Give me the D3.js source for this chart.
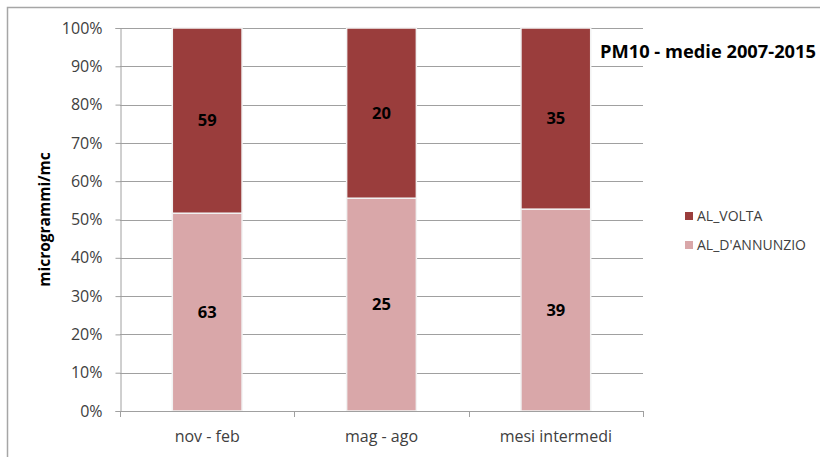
<!DOCTYPE html>
<html>
<head>
<meta charset="utf-8">
<script src="https://cdn.jsdelivr.net/npm/d3@7"></script>
<style>
  html, body { margin: 0; padding: 0; background: #fff; }
  svg { display: block; }
</style>
</head>
<body>
<svg id="chart" width="820" height="457"></svg>
<script>
// PM10 seasonal averages, 2007-2015, per station (µg/m³)
const categories = ["nov - feb", "mag - ago", "mesi intermedi"];
const seriesNames = ["AL_D'ANNUNZIO", "AL_VOLTA"];
const annunzioValues = [63, 25, 39];
const voltaValues = [59, 20, 35];
const yTickValues = [0, 0.1, 0.2, 0.3, 0.4, 0.5, 0.6, 0.7, 0.8, 0.9, 1.0];
const seriesColors = ["#d9a7a9", "#9a3d3c"];

const font = "'Open Sans', 'Noto Sans', sans-serif";
const svg = d3.select("#chart");

// outer chart frame
svg.append("rect")
  .attr("x", 7.5).attr("y", 7.5)
  .attr("width", 830).attr("height", 470)
  .attr("fill", "#fff").attr("stroke", "#a6a6a6").attr("stroke-width", 1.5);

const plot = { left: 120, right: 643, top: 28, bottom: 411 };

const x = d3.scaleBand()
  .domain(categories)
  .range([plot.left, plot.right])
  .paddingInner(0.6).paddingOuter(0.3);

const y = d3.scaleLinear().domain([0, 1]).range([plot.bottom, plot.top]);

// build 100% stacked rows
const rows = categories.map((c, i) => ({
  cat: c,
  [seriesNames[0]]: annunzioValues[i],
  [seriesNames[1]]: voltaValues[i]
}));
const stack = d3.stack().keys(seriesNames).offset(d3.stackOffsetExpand);
const layers = stack(rows);

// gridlines
svg.append("g").selectAll("line")
  .data(yTickValues.filter(v => v > 0))
  .join("line")
  .attr("x1", plot.left).attr("x2", plot.right)
  .attr("y1", d => Math.round(y(d)) + 0.5).attr("y2", d => Math.round(y(d)) + 0.5)
  .attr("stroke", "#a0a0a0").attr("stroke-width", 1);

// y axis
const yAxis = svg.append("g")
  .attr("transform", `translate(${plot.left + 0.5},0)`)
  .call(d3.axisLeft(y).tickValues(yTickValues).tickFormat(d3.format(".0%")).tickSize(5).tickPadding(13));
yAxis.select(".domain").attr("stroke", "#a0a0a0");
yAxis.selectAll(".tick line").attr("stroke", "#a0a0a0");
yAxis.selectAll("text")
  .attr("font-family", font).attr("font-size", 16).attr("fill", "#404040");

// bars
svg.append("g").selectAll("g")
  .data(layers)
  .join("g")
  .attr("fill", (d, i) => seriesColors[i])
  .selectAll("rect")
  .data(d => d)
  .join("rect")
  .attr("x", d => x(d.data.cat))
  .attr("width", x.bandwidth())
  .attr("y", d => y(d[1]))
  .attr("height", d => y(d[0]) - y(d[1]))
  .attr("stroke", "#f2f2f2").attr("stroke-width", 1.5);

// value labels
layers.forEach((layer, si) => {
  svg.append("g").selectAll("text")
    .data(layer)
    .join("text")
    .attr("x", d => x(d.data.cat) + x.bandwidth() / 2)
    .attr("y", d => (y(d[0]) + y(d[1])) / 2)
    .attr("dy", "0.35em")
    .attr("text-anchor", "middle")
    .attr("font-family", font).attr("font-size", 16.5).attr("font-weight", "bold")
    .attr("fill", "#000")
    .text(d => d.data[seriesNames[si]]);
});

// x axis
const xAxis = svg.append("g")
  .attr("transform", `translate(0,${plot.bottom + 0.5})`)
  .call(d3.axisBottom(x).tickSize(0).tickPadding(19));
xAxis.select(".domain").attr("stroke", "#a0a0a0").attr("d", `M${plot.left},0H${plot.right}`);
xAxis.selectAll("text")
  .attr("font-family", font).attr("font-size", 16).attr("fill", "#404040");
// category separators
const step = (plot.right - plot.left) / categories.length;
svg.append("g").selectAll("line")
  .data(d3.range(categories.length + 1))
  .join("line")
  .attr("x1", i => Math.round(plot.left + i * step) + 0.5)
  .attr("x2", i => Math.round(plot.left + i * step) + 0.5)
  .attr("y1", plot.bottom).attr("y2", plot.bottom + 6)
  .attr("stroke", "#a0a0a0");

// y axis title
svg.append("text")
  .attr("transform", `translate(50,${(plot.top + plot.bottom) / 2}) rotate(-90)`)
  .attr("text-anchor", "middle")
  .attr("font-family", font).attr("font-size", 15.5).attr("font-weight", "bold")
  .attr("fill", "#000")
  .text("microgrammi/mc");

// chart title
svg.append("text")
  .attr("x", 600).attr("y", 58)
  .attr("font-family", font).attr("font-size", 18.3).attr("font-weight", "bold")
  .attr("fill", "#000")
  .text("PM10 - medie 2007-2015");

// legend (series shown top-down in reverse stacking order)
const legendItems = [seriesNames[1], seriesNames[0]];
const legend = svg.append("g").selectAll("g")
  .data(legendItems)
  .join("g")
  .attr("transform", (d, i) => `translate(685,${216 + i * 29})`);
legend.append("rect")
  .attr("x", 0).attr("y", -4).attr("width", 8).attr("height", 8)
  .attr("fill", d => seriesColors[seriesNames.indexOf(d)]);
legend.append("text")
  .attr("x", 12).attr("y", 0).attr("dy", "0.36em")
  .attr("font-family", font).attr("font-size", 14).attr("fill", "#404040")
  .text(d => d);
</script>
</body>
</html>
